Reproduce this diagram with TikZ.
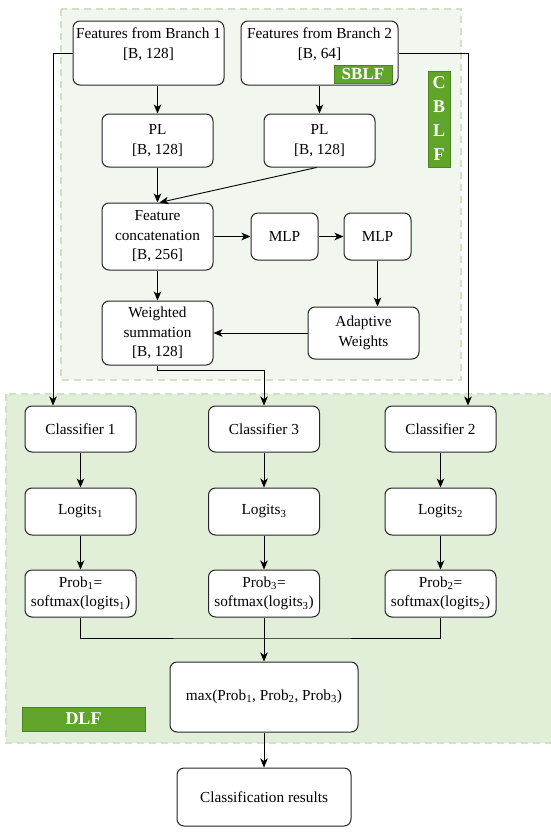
\documentclass[tikz,border=0pt]{standalone}
\usepackage{fontspec}
\setmainfont{Liberation Serif}
\usepackage{tikz}
\usetikzlibrary{arrows.meta,positioning,calc}
\definecolor{tagGreen}{HTML}{60A52A}
\definecolor{panelTop}{HTML}{F1F7EE}
\definecolor{panelBot}{HTML}{E1EED8}
\definecolor{panelLine}{HTML}{CFE2C6}

\begin{document}
\begin{tikzpicture}[x=1pt, y=-1pt,
  block/.style={draw=black!85, line width=1pt, rounded corners=7pt,
    fill=white, align=center, inner sep=1pt,
    font=\fontsize{15.3}{19.5}\selectfont},
  panel/.style={draw=panelLine, line width=1.2pt, dash pattern=on 7pt off 5pt},
  tag/.style={fill=tagGreen, draw=tagGreen!80!black, text=white,
    font=\fontsize{18}{24}\selectfont\bfseries, inner sep=0pt, align=center},
  arr/.style={-{Stealth[length=9pt, width=7.5pt, inset=2.5pt]}, line width=0.9pt},
  line/.style={line width=0.9pt}
]
\useasboundingbox (0,0) rectangle (550,833);

% Panels
\draw[panel, fill=panelTop] (61,9) rectangle (461,380);
\draw[panel, fill=panelBot] (6,394) rectangle (556,743);

% CBLF part
\node[block, minimum width=151pt, minimum height=64pt] (b1) at (148.5,53)
  {Features from Branch 1\\{[B, 128]}\\~};
\node[block, minimum width=157pt, minimum height=64pt] (b2) at (319.5,53)
  {Features from Branch 2\\{[B, 64]}\\~};
\node[tag, minimum width=58pt, minimum height=18pt,
  font=\fontsize{17}{18}\selectfont\bfseries] (sblf) at (363,74) {SBLF};
\node[tag, minimum width=22pt, minimum height=96pt] (cblf) at (439,119)
  {C\\B\\L\\F};

\node[block, minimum width=111pt, minimum height=53pt] (pl1) at (157.5,140.5)
  {PL\\{[B, 128]}};
\node[block, minimum width=111pt, minimum height=53pt] (pl2) at (319.5,140.5)
  {PL\\{[B, 128]}};
\node[block, minimum width=111pt, minimum height=67pt] (cat) at (157.5,236.5)
  {Feature\\concatenation\\{[B, 256]}};
\node[block, minimum width=67pt, minimum height=47pt] (mlp1) at (284.5,236.5) {MLP};
\node[block, minimum width=67pt, minimum height=47pt] (mlp2) at (377.5,236.5) {MLP};
\node[block, minimum width=111pt, minimum height=64pt] (ws) at (157.5,333)
  {Weighted\\summation\\{[B, 128]}};
\node[block, minimum width=111pt, minimum height=52pt] (aw) at (363.5,333)
  {Adaptive\\Weights};

% DLF part
\node[block, minimum width=111pt, minimum height=46pt] (cls1) at (80.5,429) {Classifier 1};
\node[block, minimum width=111pt, minimum height=46pt] (cls3) at (264,429) {Classifier 3};
\node[block, minimum width=111pt, minimum height=46pt] (cls2) at (440.5,429) {Classifier 2};
\node[block, minimum width=111pt, minimum height=47pt, below=35pt of cls1] (lg1)
  {Logits\textsubscript{1}};
\node[block, minimum width=111pt, minimum height=47pt, below=35pt of cls3] (lg3)
  {Logits\textsubscript{3}};
\node[block, minimum width=111pt, minimum height=47pt, below=35pt of cls2] (lg2)
  {Logits\textsubscript{2}};
\node[block, minimum width=111pt, minimum height=47pt, below=34pt of lg1] (p1)
  {Prob\textsubscript{1}=\\softmax(logits\textsubscript{1})};
\node[block, minimum width=111pt, minimum height=47pt, below=34pt of lg3] (p3)
  {Prob\textsubscript{3}=\\softmax(logits\textsubscript{3})};
\node[block, minimum width=111pt, minimum height=47pt, below=34pt of lg2] (p2)
  {Prob\textsubscript{2}=\\softmax(logits\textsubscript{2})};
\node[block, minimum width=188pt, minimum height=70pt] (mx) at (264,697)
  {max(Prob\textsubscript{1}, Prob\textsubscript{2}, Prob\textsubscript{3})};
\node[tag, minimum width=123pt, minimum height=24pt] (dlf) at (83.5,719) {DLF};
\node[block, minimum width=174pt, minimum height=58pt] (res) at (264,797)
  {Classification results};
\coordinate (join) at (264,638);

% Arrows
\draw[arr] (b1.south -| pl1) -- (pl1);
\draw[arr] (b2.south) -- (pl2);
\draw[arr] (pl1) -- (cat);
\draw[arr] ([xshift=-3pt]pl2.south) -- ([xshift=2pt]cat.north);
\draw[arr] (cat) -- (mlp1);
\draw[arr] (mlp1) -- (mlp2);
\draw[arr] (mlp2.south) -- (mlp2.south |- aw.north);
\draw[arr] (aw) -- (ws);
\draw[arr] (cat) -- (ws);
\draw[arr] (ws.south) -- ++(0,5) -| (cls3.north);
\draw[arr] (b1.west) -| ([xshift=-27.5pt]cls1.north);
\draw[arr] (b2.east) -| ([xshift=27.5pt]cls2.north);
\foreach \c/\l/\p in {cls1/lg1/p1, cls3/lg3/p3, cls2/lg2/p2} {
  \draw[arr] (\c) -- (\l);
  \draw[arr] (\l) -- (\p);
}
\draw[line] (p1.south) |- (join) -| (p2.south);
\draw[arr] (p3.south) -- (mx.north);
\draw[arr] (mx) -- (res);

\end{tikzpicture}
\end{document}
